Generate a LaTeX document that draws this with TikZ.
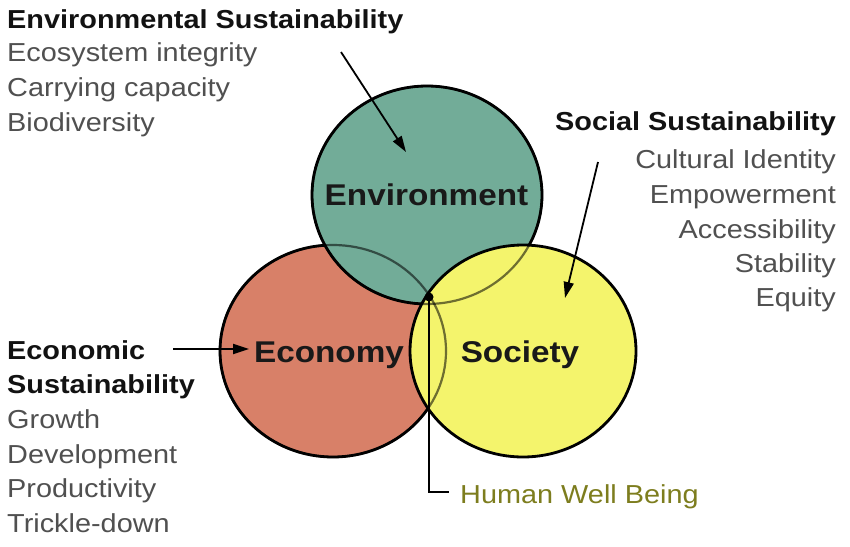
\documentclass[tikz,border=0pt]{standalone}
\usepackage{fontspec}
\setmainfont{Liberation Sans}[FakeStretch=1.11]
\usetikzlibrary{arrows.meta,shapes.geometric}
\definecolor{envgreen}{HTML}{72AC98}
\definecolor{ecored}{HTML}{D88068}
\definecolor{socyellow}{HTML}{F4F46C}
\definecolor{itemgray}{HTML}{505050}
\definecolor{olivetext}{HTML}{7D7D1E}
\begin{document}
\begin{tikzpicture}[x=1pt,y=-1pt,
  blob/.style={ellipse, draw=black, line width=2.8pt, inner sep=0pt, outer sep=0pt},
  ghost/.style={draw=black, opacity=0.55, line width=2.2pt},
  head/.style={font=\fontsize{26}{30}\selectfont\bfseries, text=black!93, inner sep=0pt},
  item/.style={font=\fontsize{26}{30}\selectfont, text=itemgray, inner sep=0pt},
  big/.style={font=\fontsize{30}{34}\selectfont\bfseries, text=black!90, inner sep=0pt},
  pointer/.style={line width=1.8pt, -{Triangle[length=16pt,width=10pt]}}]
\useasboundingbox (0,0) rectangle (850,546);
\fill[white] (0,0) rectangle (850,546);

% circles
\node[blob, fill=ecored, minimum width=226pt, minimum height=212pt] (econ) at (333,351) {};
\node[blob, fill=envgreen, minimum width=230pt, minimum height=218pt] (env) at (427,195) {};
\node[blob, fill=socyellow, minimum width=226pt, minimum height=212pt] (soc) at (523,351) {};
% hidden outlines showing through
\draw[ghost] (econ.center) ellipse [x radius=113pt, y radius=106pt];
\draw[ghost] (env.center) ellipse [x radius=115pt, y radius=109pt];

% circle labels
\node[big, anchor=base] (envlabel) at (426.5,205) {Environment};
\node[big, anchor=base] (econlabel) at (329,362) {Economy};
\node[big, anchor=base] (soclabel) at (520,362) {Society};

% environmental block
\node[head, anchor=base west] (envhead) at (7,28) {Environmental Sustainability};
\node[item, anchor=base west] (envi1) at (7,61) {Ecosystem integrity};
\node[item, anchor=base west] (envi2) at (7,96) {Carrying capacity};
\node[item, anchor=base west] (envi3) at (7,131) {Biodiversity};

% social block
\node[head, anchor=base east] (sochead) at (836,130) {Social Sustainability};
\node[item, anchor=base east] (soci1) at (836,168) {Cultural Identity};
\node[item, anchor=base east] (soci2) at (836,203) {Empowerment};
\node[item, anchor=base east] (soci3) at (836,238) {Accessibility};
\node[item, anchor=base east] (soci4) at (836,272) {Stability};
\node[item, anchor=base east] (soci5) at (836,306) {Equity};

% economic block
\node[head, anchor=base west] (econhead1) at (7,359) {Economic};
\node[head, anchor=base west] (econhead2) at (7,393) {Sustainability};
\node[item, anchor=base west] (econi1) at (7,428) {Growth};
\node[item, anchor=base west] (econi2) at (7,463) {Development};
\node[item, anchor=base west] (econi3) at (7,497) {Productivity};
\node[item, anchor=base west] (econi4) at (7,532) {Trickle-down};

% arrows
\coordinate (envtail) at (341,52);
\coordinate (envtip) at (406,152);
\draw[pointer] (envtail) -- (envtip);
\coordinate (soctail) at (598,162);
\coordinate (soctip) at (565,298);
\draw[pointer] (soctail) -- (soctip);
\coordinate (econtail) at (173,349);
\coordinate (econtip) at (249,349);
\draw[pointer] (econtail) -- (econtip);

% human well being
\node[circle, fill=black, minimum size=9pt, inner sep=0pt] (hwbdot) at (429,297) {};
\node[item, text=olivetext, anchor=base west] (hwb) at (460,503) {Human Well Being};
\coordinate (hwbend) at (449,492);
\draw[line width=1.8pt] (hwbdot.center) |- (hwbend);
\end{tikzpicture}
\end{document}
